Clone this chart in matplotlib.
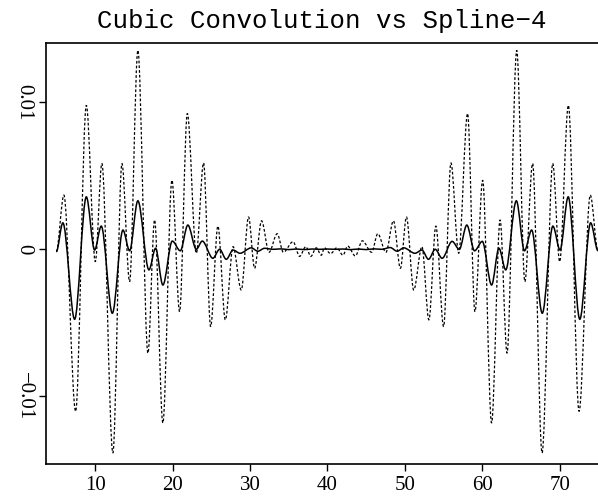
import matplotlib
matplotlib.use("Agg")
import matplotlib.pyplot as plt
from matplotlib.path import Path
from matplotlib.patches import PathPatch

# solid curve (cubic convolution error) at peaks/troughs
x_solid = [4.96, 5.81, 7.33, 8.84, 9.91, 10.77, 12.2, 13.57, 14.43, 15.5,
           16.93, 17.79, 18.73, 19.95, 20.98, 21.96, 23.05, 23.82, 25.19, 26.06,
           26.92, 27.8, 28.7, 30.15, 31.0, 31.87, 33.0, 34.0, 35.0, 36.0,
           37.0, 38.0, 39.0, 40.0, 41.0, 42.0, 43.0, 44.0, 45.0, 46.0,
           47.0, 48.1, 49.0, 49.85, 51.3, 52.2, 53.05, 53.92, 54.81, 56.1,
           57.03, 58.0, 59.0, 60.0, 61.2, 62.15, 63.03, 64.4, 65.45, 66.38,
           67.75, 69.12, 70.05, 71.1, 72.6, 74.0, 74.95]
y_solid = [-0.00016, 0.0018, -0.00476, 0.00357, -0.00005, 0.00158, -0.00435, 0.00131, -0.0001, 0.0033,
           -0.0014, 0.00007, -0.00243, 0.00056, -0.0001, 0.00165, 0.0, 0.00056, -0.00061, 0.0,
           -0.00068, -0.00005, -0.00027, 0.0001, -0.00013, 0.00007, 0.0, 0.00003, -0.00002, 0.00002,
           -0.00002, 0.00002, 0.0, 0.00002, 0.0, 0.00002, -0.00002, 0.00002, -0.00002, 0.00003,
           0.0, 0.00012, -0.00013, 0.0001, -0.00027, -0.00005, -0.00068, 0.0, -0.00061, 0.00054,
           0.0, 0.00165, -0.0001, 0.00054, -0.00243, 0.00007, -0.0014, 0.0033, -0.0001, 0.00131,
           -0.00435, 0.00158, -0.00005, 0.00357, -0.00476, 0.0018, -0.0001]

# dotted curve (spline-4 error)
x_dotted = [4.96, 5.94, 7.46, 8.84, 10.0, 10.85, 12.27, 13.44, 14.43, 15.5,
            16.8, 17.66, 18.73, 19.9, 20.89, 21.89, 23.05, 23.99, 24.9, 25.84,
            26.8, 27.8, 28.86, 29.8, 30.58, 31.48, 32.45, 33.5, 34.3, 35.55,
            36.4, 37.2, 37.85, 38.55, 39.2, 39.6, 40.4, 41.2, 42.0, 42.6,
            43.6, 44.5, 45.7, 46.5, 47.55, 48.52, 49.42, 50.2, 51.14, 52.2,
            53.1, 54.0, 55.0, 55.95, 56.95, 58.1, 59.05, 60.05, 61.2, 62.3,
            63.2, 64.45, 65.5, 66.5, 67.72, 69.1, 70.0, 71.12, 72.5, 73.95, 74.95]
y_dotted = [-0.00016, 0.00369, -0.01103, 0.0098, -0.00084, 0.00584, -0.01386, 0.00584, -0.0022, 0.01354,
            -0.00707, 0.002, -0.01182, 0.0047, -0.00424, 0.00924, -0.00027, 0.00588, -0.00526, 0.00158,
            -0.0048, 0.00018, -0.00277, 0.0022, -0.00129, 0.00194, -0.0002, 0.00106, -0.0002, 0.00052,
            -0.00048, 0.00018, -0.00048, 0.0001, -0.0004, 0.0001, -0.0003, 0.0001, -0.0004, 0.00022,
            -0.00045, 0.00058, -0.0002, 0.00106, -0.0002, 0.00194, -0.00129, 0.0022, -0.00277, 0.00018,
            -0.0048, 0.00158, -0.00526, 0.00588, -0.00027, 0.00924, -0.00424, 0.0047, -0.01182, 0.002,
            -0.00707, 0.01354, -0.0022, 0.00584, -0.01386, 0.00584, -0.00084, 0.0098, -0.01103, 0.00369, -0.0001]

x_ticks = [10, 20, 30, 40, 50, 60, 70]
y_ticks = [-0.01, 0, 0.01]
y_ticklabels = ["\u22120.01", "0", "0.01"]


def wave_path(xs, ys):
    # the read points are the peaks and troughs, so join them with cubic
    # segments that are flat at each end (rounded crests like the original)
    verts = [(xs[0], ys[0])]
    codes = [Path.MOVETO]
    for i in range(1, len(xs)):
        dx = (xs[i] - xs[i - 1]) / 3
        verts += [(xs[i - 1] + dx, ys[i - 1]), (xs[i] - dx, ys[i]), (xs[i], ys[i])]
        codes += [Path.CURVE4] * 3
    return Path(verts, codes)


fig = plt.figure(figsize=(5.98, 4.96), dpi=100)
ax = fig.add_axes([46 / 598, 1 - 464 / 496, 1 - 46 / 598, (464 - 43) / 496])

ax.add_patch(PathPatch(wave_path(x_dotted, y_dotted), fill=False, edgecolor="black",
                       linewidth=0.9, linestyle=(0, (2.2, 1.6))))
ax.add_patch(PathPatch(wave_path(x_solid, y_solid), fill=False, edgecolor="black",
                       linewidth=1.1))

ax.set_xlim(3.63, 74.95)
ax.set_ylim(-0.01461, 0.01404)

ax.set_xticks(x_ticks)
ax.set_xticklabels([str(v) for v in x_ticks], family="Liberation Serif", fontsize=15)
ax.set_yticks(y_ticks)
ax.set_yticklabels(y_ticklabels, family="Liberation Serif", fontsize=15,
                   rotation=-90, va="center")
ax.tick_params(direction="out", length=5, width=1, pad=4)

ax.spines["right"].set_visible(False)
for s in ["left", "bottom", "top"]:
    ax.spines[s].set_linewidth(1.2)

ax.set_title("Cubic Convolution vs Spline\u22124", family="Liberation Mono",
             fontsize=18.5, pad=11)

fig.savefig("out.png", dpi=100)
